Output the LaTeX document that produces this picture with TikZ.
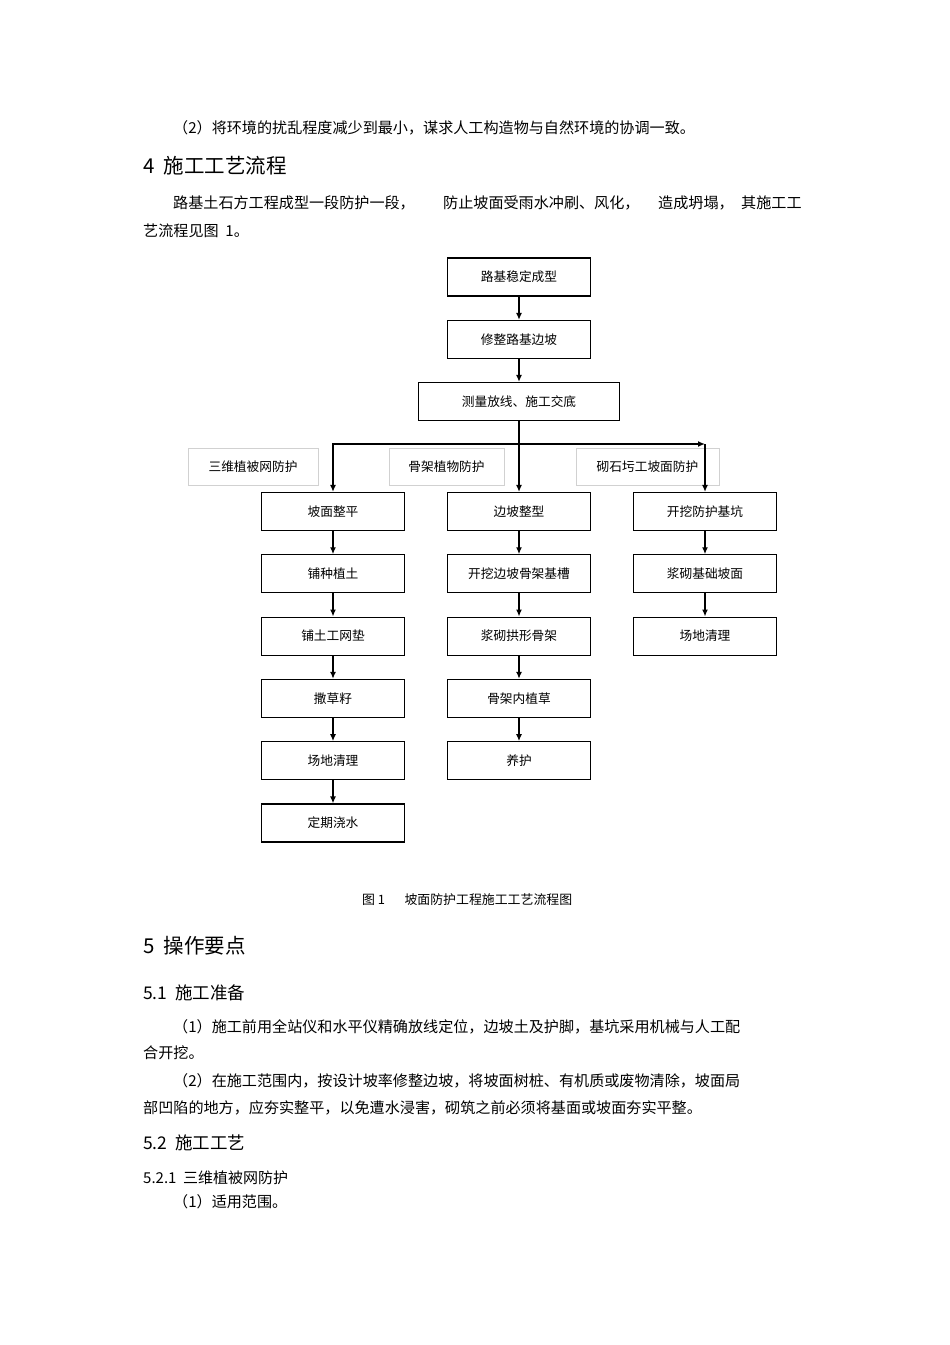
\documentclass[tikz,border=0pt]{standalone}
\usepackage{fontspec}
\setmainfont{Noto Sans CJK SC}
\usetikzlibrary{arrows.meta}

\begin{document}
\begin{tikzpicture}[x=1pt,y=-1pt,
  box/.style={draw,line width=1.1pt,minimum width=143pt,minimum height=38pt,inner sep=0pt,font=\fontsize{12.7}{14}\selectfont},
  tagbox/.style={draw=black!18,line width=1pt,minimum height=37pt,inner sep=0pt,font=\fontsize{12.7}{14}\selectfont},
  flow/.style={line width=1.7pt,-{Latex[length=7pt,width=6pt]}},
  body/.style={anchor=west,inner sep=0pt,font=\fontsize{15.1}{16}\selectfont},
  headA/.style={anchor=west,inner sep=0pt,font=\fontsize{20.5}{22}\selectfont},
  headB/.style={anchor=west,inner sep=0pt,font=\fontsize{17.5}{19}\selectfont},
  headC/.style={anchor=west,inner sep=0pt,font=\fontsize{15}{17}\selectfont}]
  \useasboundingbox[fill=white] (0,0) rectangle (950,1345);

  % text above the chart
  \node[body] (p1) at (173,128) {（2）将环境的扰乱程度减少到最小，谋求人工构造物与自然环境的协调一致。};
  \node[headA] (h4) at (143,166) {4\ \ 施工工艺流程};
  \node[body] (p2a) at (173,203) {路基土石方工程成型一段防护一段，};
  \node[body] (p2b) at (443,203) {防止坡面受雨水冲刷、风化，};
  \node[body] (p2c) at (658,203) {造成坍塌，};
  \node[body] (p2d) at (741,203) {其施工工};
  \node[body] (p2e) at (143,231) {艺流程见图\ \ 1。};

  % common steps
  \node[box] (st1) at (519,277) {路基稳定成型};
  \node[box] (st2) at (519,339.5) {修整路基边坡};
  \node[box,minimum width=201pt] (st3) at (519,401.5) {测量放线、施工交底};
  \draw[flow] (st1) -- (st2);
  \draw[flow] (st2) -- (st3);

  % branch labels
  \node[tagbox,minimum width=130pt] (ta) at (253,466.5) {三维植被网防护};
  \node[tagbox,minimum width=115pt] (tb) at (446.5,466.5) {骨架植物防护};
  \node[tagbox,minimum width=143pt] (tc) at (647.5,466.5) {砌石圬工坡面防护};

  % three columns
  \foreach \t [count=\i] in {坡面整平,铺种植土,铺土工网垫,撒草籽,场地清理,定期浇水}
    \node[box] (a\i) at (333,{511.5+62.3*(\i-1)}) {\t};
  \foreach \t [count=\i] in {边坡整型,开挖边坡骨架基槽,浆砌拱形骨架,骨架内植草,养护}
    \node[box] (b\i) at (519,{511.5+62.3*(\i-1)}) {\t};
  \foreach \t [count=\i] in {开挖防护基坑,浆砌基础坡面,场地清理}
    \node[box] (c\i) at (705,{511.5+62.3*(\i-1)}) {\t};

  \coordinate (jm) at (519,444);
  \coordinate (jr) at (705,444);
  \draw[flow] (st3) -- (b1);
  \draw[flow] (jm) -| (a1);
  \draw[flow] (jm) -- (jr);
  \draw[flow] (jr) -- (c1);

  \foreach \i [evaluate=\i as \j using int(\i+1)] in {1,...,5}
    \draw[flow] (a\i) -- (a\j);
  \foreach \i [evaluate=\i as \j using int(\i+1)] in {1,...,4}
    \draw[flow] (b\i) -- (b\j);
  \foreach \i [evaluate=\i as \j using int(\i+1)] in {1,2}
    \draw[flow] (c\i) -- (c\j);

  \node[anchor=west,inner sep=0pt,font=\fontsize{12.9}{14}\selectfont] (cap) at (362,900) {图\ 1\hspace{1.5em}坡面防护工程施工工艺流程图};

  % text below the chart
  \node[headA] (h5) at (143,946) {5\ \ 操作要点};
  \node[headB] (h51) at (143,993) {5.1\ \ 施工准备};
  \node[body] (p3a) at (173,1027) {（1）施工前用全站仪和水平仪精确放线定位，边坡土及护脚，基坑采用机械与人工配};
  \node[body] (p3b) at (143,1053) {合开挖。};
  \node[body] (p4a) at (173,1081) {（2）在施工范围内，按设计坡率修整边坡，将坡面树桩、有机质或废物清除，坡面局};
  \node[body] (p4b) at (143,1108) {部凹陷的地方，应夯实整平，以免遭水浸害，砌筑之前必须将基面或坡面夯实平整。};
  \node[headB] (h52) at (143,1143) {5.2\ \ 施工工艺};
  \node[headC] (h521) at (143,1178) {5.2.1\ \ 三维植被网防护};
  \node[body] (p5) at (173,1202) {（1）适用范围。};
\end{tikzpicture}
\end{document}
